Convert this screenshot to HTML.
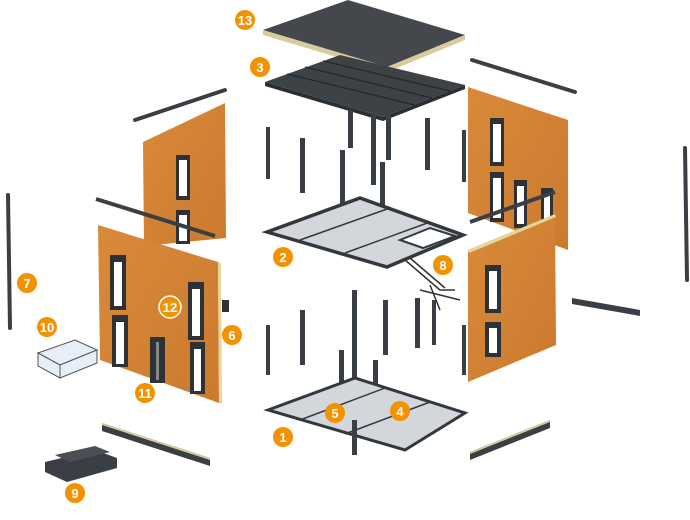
<!DOCTYPE html>
<html><head><meta charset="utf-8"><style>
html,body{margin:0;padding:0;background:#fff;width:690px;height:520px;overflow:hidden}
svg{display:block}
text{font-family:"Liberation Sans",sans-serif;font-weight:bold;fill:#fff;font-size:13px}
</style></head><body>
<svg width="690" height="520" viewBox="0 0 690 520">
<defs>
<linearGradient id="wood" x1="0" y1="0" x2="1" y2="1"><stop offset="0" stop-color="#d88a3a"/><stop offset="1" stop-color="#cc7a2e"/></linearGradient>
</defs>
<g stroke="#3a3f45" stroke-linecap="round">
<line x1="135" y1="120" x2="225" y2="90" stroke-width="4"/>
<line x1="472" y1="60" x2="575" y2="92" stroke-width="4"/>
<line x1="8" y1="195" x2="10" y2="328" stroke-width="4"/>
<line x1="685" y1="148" x2="687" y2="280" stroke-width="4"/>
</g>
<polygon points="143,142 225,103 226,238 144,246" fill="url(#wood)"/>
<rect x="176" y="155" width="14" height="45" fill="#2e3237"/><rect x="179" y="160" width="8" height="36" fill="#fff"/>
<rect x="176" y="210" width="14" height="34" fill="#2e3237"/><rect x="179" y="215" width="8" height="26" fill="#fff"/>
<line x1="96" y1="199" x2="215" y2="236" stroke="#3a3f45" stroke-width="4"/>
<polygon points="263,30 348,0 465,35 387,67" fill="#44484d"/>
<polygon points="263,30 387,67 465,35 465,40 387,72 263,35" fill="#d8cc9a"/>
<polygon points="265,82 340,55 465,85 383,117" fill="#3d4247"/>
<polygon points="265,82 383,117 465,85 465,89 383,121 265,86" fill="#2a2e33"/>
<g stroke="#25282c" stroke-width="1.2"><line x1="287" y1="74" x2="415" y2="105"/><line x1="305" y1="67" x2="432" y2="98"/><line x1="323" y1="61" x2="450" y2="91"/></g>
<g fill="#3a3f45">
<rect x="348" y="110" width="5" height="38"/><rect x="371" y="115" width="5" height="70"/><rect x="386" y="115" width="5" height="45"/>
<rect x="425" y="118" width="5" height="52"/><rect x="266" y="127" width="4" height="52"/><rect x="300" y="138" width="5" height="55"/>
<rect x="340" y="150" width="5" height="55"/><rect x="380" y="162" width="5" height="55"/><rect x="462" y="130" width="4" height="52"/>
<rect x="352" y="290" width="5" height="160"/><rect x="339" y="350" width="5" height="60"/><rect x="383" y="300" width="5" height="55"/>
<rect x="415" y="298" width="5" height="50"/><rect x="373" y="360" width="5" height="70"/><rect x="266" y="325" width="4" height="50"/>
<rect x="300" y="310" width="5" height="55"/><rect x="462" y="325" width="4" height="50"/><rect x="432" y="300" width="4" height="45"/>
</g>
<polygon points="267,232 360,198 463,235 387,267" fill="#d3d7dc"/>
<polygon points="267,232 360,198 463,235 387,267" fill="none" stroke="#33383d" stroke-width="3.5"/>
<polygon points="400,240 430,228 455,236 423,248" fill="#fff" stroke="#33383d" stroke-width="2"/>
<g stroke="#33383d" stroke-width="1.5"><line x1="300" y1="240" x2="390" y2="208"/><line x1="345" y1="253" x2="430" y2="222"/></g>
<g stroke="#333" stroke-width="1.5" fill="none"><path d="M405 260 L440 290 L455 290 M410 258 L445 288"/><path d="M420 290 L460 300 M430 285 L440 310"/></g>
<polygon points="468,87 568,120 568,250 468,213" fill="url(#wood)"/>
<g fill="#2e3237"><rect x="490" y="118" width="14" height="48"/><rect x="490" y="172" width="14" height="50"/><rect x="514" y="180" width="13" height="48"/><rect x="541" y="188" width="12" height="48"/></g>
<g fill="#fff"><rect x="493" y="124" width="8" height="38"/><rect x="493" y="178" width="8" height="40"/><rect x="517" y="186" width="7" height="38"/><rect x="544" y="194" width="6" height="38"/></g>
<line x1="470" y1="222" x2="555" y2="192" stroke="#3a3f45" stroke-width="4"/>
<polygon points="468,250 555,214 556,345 468,382" fill="url(#wood)"/>
<polygon points="468,250 555,214 556,217 469,253" fill="#e6d59a"/>
<g fill="#2e3237"><rect x="485" y="265" width="16" height="48"/><rect x="485" y="322" width="16" height="35"/></g>
<g fill="#fff"><rect x="489" y="271" width="8" height="38"/><rect x="489" y="328" width="8" height="25"/></g>
<polygon points="268,410 355,378 465,413 405,450" fill="#d3d7dc" stroke="#33383d" stroke-width="3"/>
<g stroke="#33383d" stroke-width="1.5"><line x1="300" y1="420" x2="385" y2="388"/><line x1="345" y1="434" x2="430" y2="402"/></g>
<rect x="352" y="420" width="5" height="35" fill="#3a3f45"/>
<polygon points="98,225 218,262 219,403 100,360" fill="url(#wood)"/>
<polygon points="218,262 221,263 222,404 219,403" fill="#e6d59a"/>
<g fill="#2e3237"><rect x="110" y="255" width="16" height="55"/><rect x="112" y="315" width="16" height="52"/><rect x="188" y="282" width="16" height="58"/><rect x="190" y="342" width="15" height="52"/><rect x="150" y="337" width="15" height="46"/></g>
<g fill="#fff"><rect x="114" y="262" width="8" height="44"/><rect x="116" y="322" width="8" height="42"/><rect x="192" y="289" width="8" height="47"/><rect x="194" y="349" width="7" height="42"/><rect x="156" y="342" width="3" height="38" fill="#888"/></g>
<rect x="222" y="300" width="7" height="12" fill="#2e3237"/>
<polygon points="102,423 210,458 210,466 102,431" fill="#3a3f45"/><polygon points="102,423 210,458 210,460 102,425" fill="#d8cc9a"/>
<polygon points="470,452 550,420 550,428 470,460" fill="#3a3f45"/><polygon points="470,452 550,420 550,422 470,454" fill="#d8cc9a"/>
<polygon points="572,298 640,310 640,316 572,304" fill="#3a3f45"/>
<g fill="#e8eef8" stroke="#555" stroke-width="1"><polygon points="38,353 75,340 97,350 60,365"/><polygon points="38,353 60,365 60,378 38,366"/><polygon points="60,365 97,350 97,363 60,378"/></g>
<g fill="#3a3f45"><polygon points="45,462 95,450 117,458 117,468 67,482 45,472"/></g>
<polygon points="55,455 95,446 110,452 70,462" fill="#4a4f55"/>
<g fill="#f39200">
<circle cx="245" cy="20" r="10"/><circle cx="260" cy="67" r="10"/><circle cx="283" cy="257" r="10"/><circle cx="443" cy="265" r="10"/>
<circle cx="170" cy="307" r="11" stroke="#fff" stroke-width="1.5"/><circle cx="232" cy="335" r="10"/><circle cx="145" cy="393" r="10"/><circle cx="27" cy="283" r="10"/>
<circle cx="47" cy="327" r="10"/><circle cx="75" cy="493" r="10"/><circle cx="283" cy="437" r="10"/><circle cx="335" cy="413" r="10"/><circle cx="400" cy="411" r="10"/>
</g>
<g text-anchor="middle">
<text x="245" y="25" font-size="11">13</text><text x="260" y="72">3</text><text x="283" y="262">2</text><text x="443" y="270">8</text>
<text x="170" y="312" font-size="11">12</text><text x="232" y="340">6</text><text x="145" y="398" font-size="11">11</text><text x="27" y="288">7</text>
<text x="47" y="332" font-size="11">10</text><text x="75" y="498">9</text><text x="283" y="442">1</text><text x="335" y="418">5</text><text x="400" y="416">4</text>
</g>
</svg>
</body></html>
